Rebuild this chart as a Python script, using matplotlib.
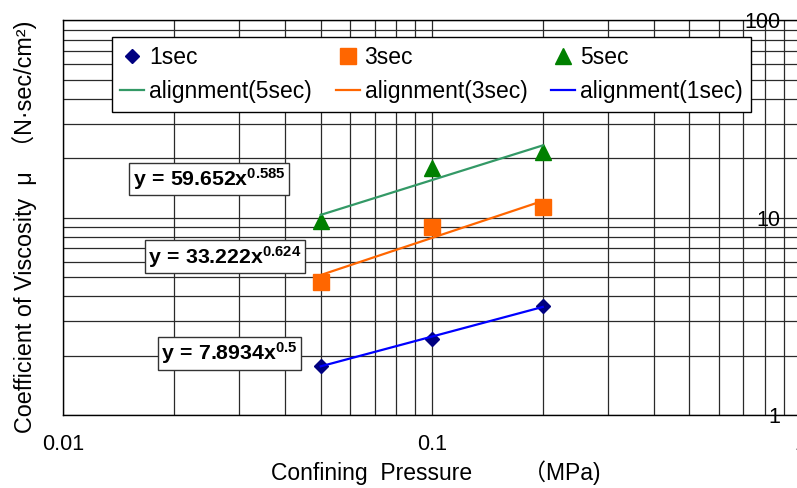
import matplotlib
matplotlib.use("Agg")
import matplotlib.pyplot as plt
import numpy as np
from matplotlib.ticker import LogLocator, NullFormatter

# Measured viscosity coefficient at each confining pressure
pressure = [0.05, 0.1, 0.2]
mu_1sec = [1.78, 2.42, 3.56]
mu_3sec = [4.75, 9.0, 11.4]
mu_5sec = [9.6, 17.9, 21.5]

# Power-law trend lines y = a * x^b
coef_1sec, exp_1sec = 7.8934, 0.5
coef_3sec, exp_3sec = 33.222, 0.624
coef_5sec, exp_5sec = 59.652, 0.585
fit_range = [0.05, 0.2]

x_ticks = [0.01, 0.1, 1]
x_tick_labels = ["0.01", "0.1", "1"]
y_ticks = [1, 10, 100]
y_tick_labels = ["1", "10", "100"]

plt.rcParams["font.family"] = ["Liberation Sans", "Noto Sans CJK JP", "DejaVu Sans"]
plt.rcParams["mathtext.fontset"] = "custom"
plt.rcParams["mathtext.rm"] = "Liberation Sans"
plt.rcParams["mathtext.it"] = "Liberation Sans:italic"
plt.rcParams["mathtext.bf"] = "Liberation Sans:bold"

W, H = 797, 488
fig = plt.figure(figsize=(W / 100, H / 100), dpi=100)
fig.patch.set_facecolor("white")

left, right, top, bottom = 63, 800.5, 20.5, 415
ax = fig.add_axes([left / W, (H - bottom) / H, (right - left) / W, (bottom - top) / H])
ax.set_xscale("log")
ax.set_yscale("log")
ax.set_xlim(0.01, 1)
ax.set_ylim(1, 100)

ax.xaxis.set_minor_locator(LogLocator(base=10, subs=np.arange(2, 10)))
ax.yaxis.set_minor_locator(LogLocator(base=10, subs=np.arange(2, 10)))
ax.xaxis.set_minor_formatter(NullFormatter())
ax.yaxis.set_minor_formatter(NullFormatter())
ax.set_xticks(x_ticks, x_tick_labels)
ax.set_yticks(y_ticks, y_tick_labels)

ax.set_axisbelow(True)
ax.grid(True, which="both", color="#2a2a2a", lw=0.9)
for s in ax.spines.values():
    s.set_color("black")
    s.set_linewidth(1.0)

ax.tick_params(axis="x", which="both", length=0, pad=14, labelsize=15.5)
ax.tick_params(axis="y", which="both", length=0, left=False, right=False,
               labelleft=False, labelright=True, pad=-14.4, labelsize=15.5)
for lbl in ax.get_yticklabels():
    lbl.set_horizontalalignment("right")

# data markers
h1, = ax.plot(pressure, mu_1sec, ls="none", marker="D", ms=7.2, color="#000080", zorder=3, label="1sec")
h3, = ax.plot(pressure, mu_3sec, ls="none", marker="s", ms=11, color="#FF6600", zorder=3, label="3sec")
h5, = ax.plot(pressure, mu_5sec, ls="none", marker="^", ms=11.5, color="#008000", zorder=3, label="5sec")

# trend lines
xf = np.array(fit_range)
l5, = ax.plot(xf, coef_5sec * xf ** exp_5sec, color="#339966", lw=1.6, zorder=4, label="alignment(5sec)")
l3, = ax.plot(xf, coef_3sec * xf ** exp_3sec, color="#FF6600", lw=1.6, zorder=4, label="alignment(3sec)")
l1, = ax.plot(xf, coef_1sec * xf ** exp_1sec, color="#0000FF", lw=1.6, zorder=4, label="alignment(1sec)")

leg = ax.legend(handles=[h1, l5, h3, l3, h5, l1], ncol=3, loc="upper left",
                bbox_to_anchor=(111.7 / W, 1 - 37.3 / H), bbox_transform=fig.transFigure,
                borderaxespad=0, fontsize=16.5, frameon=True, fancybox=False,
                edgecolor="black", framealpha=1, borderpad=0.38, labelspacing=0.5,
                handlelength=1.05, handletextpad=0.2, columnspacing=1.05)
leg.get_frame().set_linewidth(1.0)

# equation boxes
eq_style = dict(ha="center", va="center", fontsize=15.3, zorder=6,
                bbox=dict(boxstyle="square,pad=0.16", fc="white", ec="#333333", lw=1.0))
fig.text(209 / W, 1 - 179 / H, r"$\mathbf{y\,=\,59.652x^{0.585}}$", **eq_style)
fig.text(225 / W, 1 - 256.7 / H, r"$\mathbf{y\,=\,33.222x^{0.624}}$", **eq_style)
fig.text(229.7 / W, 1 - 353.3 / H, r"$\mathbf{y\,=\,7.8934x^{0.5}}$", **eq_style)

# axis titles
fig.text(436 / W, 1 - 473 / H, "Confining  Pressure        （MPa)",
         ha="center", va="center", fontsize=16.5)
fig.text(25 / W, 1 - 227 / H, "Coefficient of Viscosity  μ  （N·sec/cm²)",
         ha="center", va="center", rotation=90, fontsize=16.8)

fig.savefig("out.png", dpi=100, facecolor="white")
